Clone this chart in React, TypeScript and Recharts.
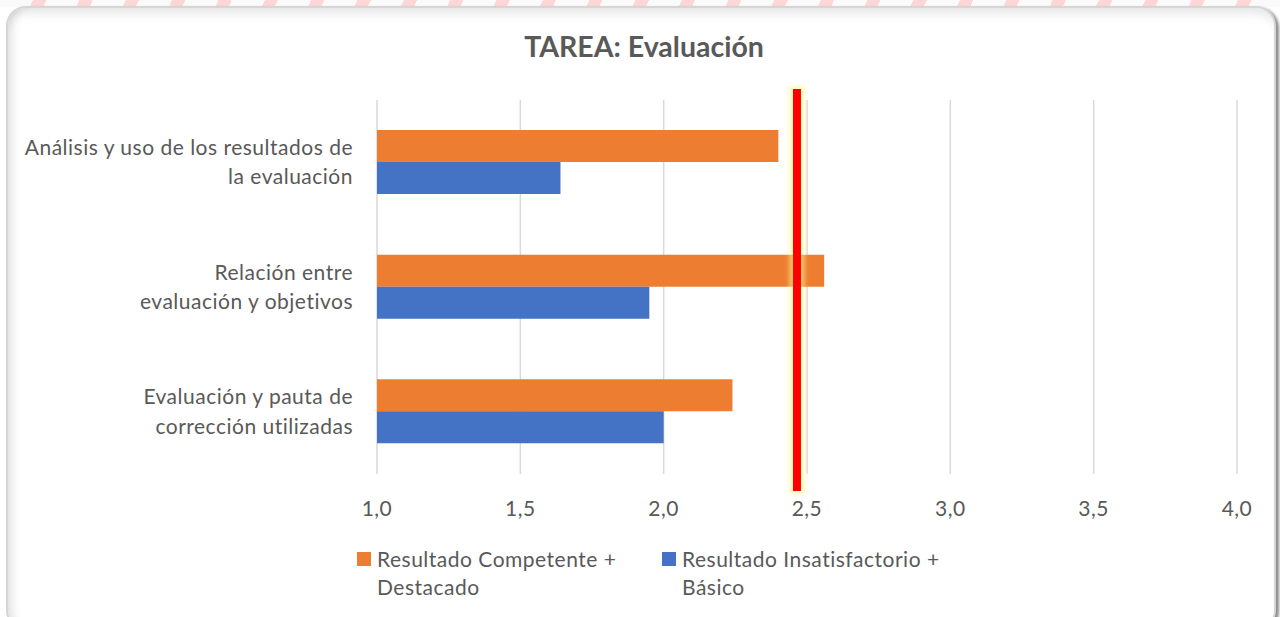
import React from 'react';
import { BarChart, Bar, XAxis, YAxis, CartesianGrid, Legend, ReferenceLine } from 'recharts';

const categories = [
  'Análisis y uso de los resultados de la evaluación',
  'Relación entre evaluación y objetivos',
  'Evaluación y pauta de corrección utilizadas',
];
const tickLines = [
  ['Análisis y uso de los resultados de', 'la evaluación'],
  ['Relación entre', 'evaluación y objetivos'],
  ['Evaluación y pauta de', 'corrección utilizadas'],
];
const competente = [2.4, 2.56, 2.24];
const insatisfactorio = [1.64, 1.95, 2.0];
const xTicks = [1, 1.5, 2, 2.5, 3, 3.5, 4];
const threshold = 2.465;

const seriesNames = {
  competente: ['Resultado Competente +', 'Destacado'],
  insatisfactorio: ['Resultado Insatisfactorio +', 'Básico'],
};

const ORANGE = '#ED7D31';
const BLUE = '#4472C4';
const TEXT = '#595959';
const FONT = 'Lato, "Open Sans", sans-serif';
const FS = 21;
const LS = 0.5;

const data = categories.map((name, i) => ({
  name,
  competente: competente[i],
  insatisfactorio: insatisfactorio[i],
}));

function CategoryTick(props: any) {
  const { x, y, index } = props;
  const lines = tickLines[index] || [String(props.payload.value)];
  const lh = 29.5;
  const start = y - ((lines.length - 1) * lh) / 2;
  return (
    <g>
      {lines.map((l: string, i: number) => (
        <text
          key={i}
          x={x - 16}
          y={start + i * lh}
          dy="0.35em"
          textAnchor="end"
          fill={TEXT}
          fontSize={FS}
          letterSpacing={LS}
          fontFamily={FONT}
        >
          {l}
        </text>
      ))}
    </g>
  );
}

// red marker line with a soft yellow glow, extended a little past the plot area
function GlowLine(props: any) {
  const { x1, y1, y2 } = props;
  const top = Math.min(y1, y2) - 11;
  const bottom = Math.max(y1, y2) + 17;
  return (
    <g stroke="none">
      <defs>
        <filter id="glow" filterUnits="userSpaceOnUse" x={x1 - 40} y={top - 40} width={80} height={bottom - top + 80}>
          <feGaussianBlur stdDeviation="2" />
        </filter>
      </defs>
      <rect x={x1 - 8} y={top - 3} width={16} height={bottom - top + 6} fill="#FFF58A" fillOpacity={0.55} stroke="none" filter="url(#glow)" />
      <rect x={x1 - 4} y={top} width={8} height={bottom - top} fill="#FF0000" stroke="none" />
    </g>
  );
}

function LegendContent() {
  const items = [
    { color: ORANGE, lines: seriesNames.competente, left: 357 },
    { color: BLUE, lines: seriesNames.insatisfactorio, left: 662 },
  ];
  return (
    <div style={{ position: 'relative', height: 60, width: 1280, fontFamily: FONT, fontSize: FS, letterSpacing: LS, color: TEXT }}>
      {items.map((it, i) => (
        <div key={i} style={{ position: 'absolute', left: it.left, top: 0, display: 'flex' }}>
          <div style={{ width: 14, height: 14, background: it.color, marginTop: 7, marginRight: 6 }} />
          <div style={{ lineHeight: '28px', textAlign: 'left', whiteSpace: 'nowrap' }}>
            {it.lines.map((l, j) => (
              <div key={j}>{l}</div>
            ))}
          </div>
        </div>
      ))}
    </div>
  );
}

export default function App() {
  return (
    <div style={{ position: 'absolute', left: 0, top: 0, width: 1280, height: 617, overflow: 'hidden', background: '#fff' }}>
      {/* faint watermark strokes above the frame */}
      <div
        style={{
          position: 'absolute', left: 0, top: 0, width: 1280, height: 7,
          background: 'repeating-linear-gradient(115deg, #fafafa 0px, #fafafa 30px, #ffd6d6 30px, #ffd6d6 42px)',
        }}
      />
      <div
        style={{
          position: 'absolute', left: 6, top: 6, width: 1266, height: 620,
          border: '2px solid #d6d6d6', borderRadius: 20, background: '#fff',
          boxShadow: '3px 2px 3px rgba(0,0,0,0.45), inset 0 12px 12px -8px rgba(0,0,0,0.12), inset 12px 0 10px -8px rgba(0,0,0,0.12)',
        }}
      />
      <div
        style={{
          position: 'absolute', left: 0, top: 29, width: 1288, textAlign: 'center',
          fontFamily: FONT, fontWeight: 700, fontSize: 28.5, color: TEXT,
        }}
      >
        TAREA: Evaluación
      </div>
      <div style={{ position: 'absolute', left: 0, top: 0 }}>
        <BarChart
          width={1280}
          height={617}
          data={data}
          layout="vertical"
          margin={{ top: 100, right: 43, left: 0, bottom: 43 }}
          barGap={0}
          barSize={32}
        >
          <CartesianGrid vertical horizontal={false} stroke="#d9d9d9" strokeWidth={1.5} />
          <XAxis
            type="number"
            domain={[1, 4]}
            ticks={xTicks}
            axisLine={false}
            tickLine={false}
            tickMargin={21}
            height={40}
            tick={{ fill: TEXT, fontSize: FS, fontFamily: FONT, letterSpacing: LS }}
            tickFormatter={(v: number) => v.toFixed(1).replace('.', ',')}
          />
          <YAxis
            type="category"
            dataKey="name"
            width={377}
            axisLine={false}
            tickLine={false}
            tick={<CategoryTick />}
          />
          <Bar dataKey="competente" name={seriesNames.competente.join(' ')} fill={ORANGE} isAnimationActive={false} />
          <Bar dataKey="insatisfactorio" name={seriesNames.insatisfactorio.join(' ')} fill={BLUE} isAnimationActive={false} />
          <ReferenceLine x={threshold} ifOverflow="visible" stroke="none" shape={<GlowLine />} />
          <Legend
            verticalAlign="bottom"
            content={<LegendContent />}
            wrapperStyle={{ left: 0, top: 545, bottom: 'auto', width: 1280 }}
          />
        </BarChart>
      </div>
    </div>
  );
}
